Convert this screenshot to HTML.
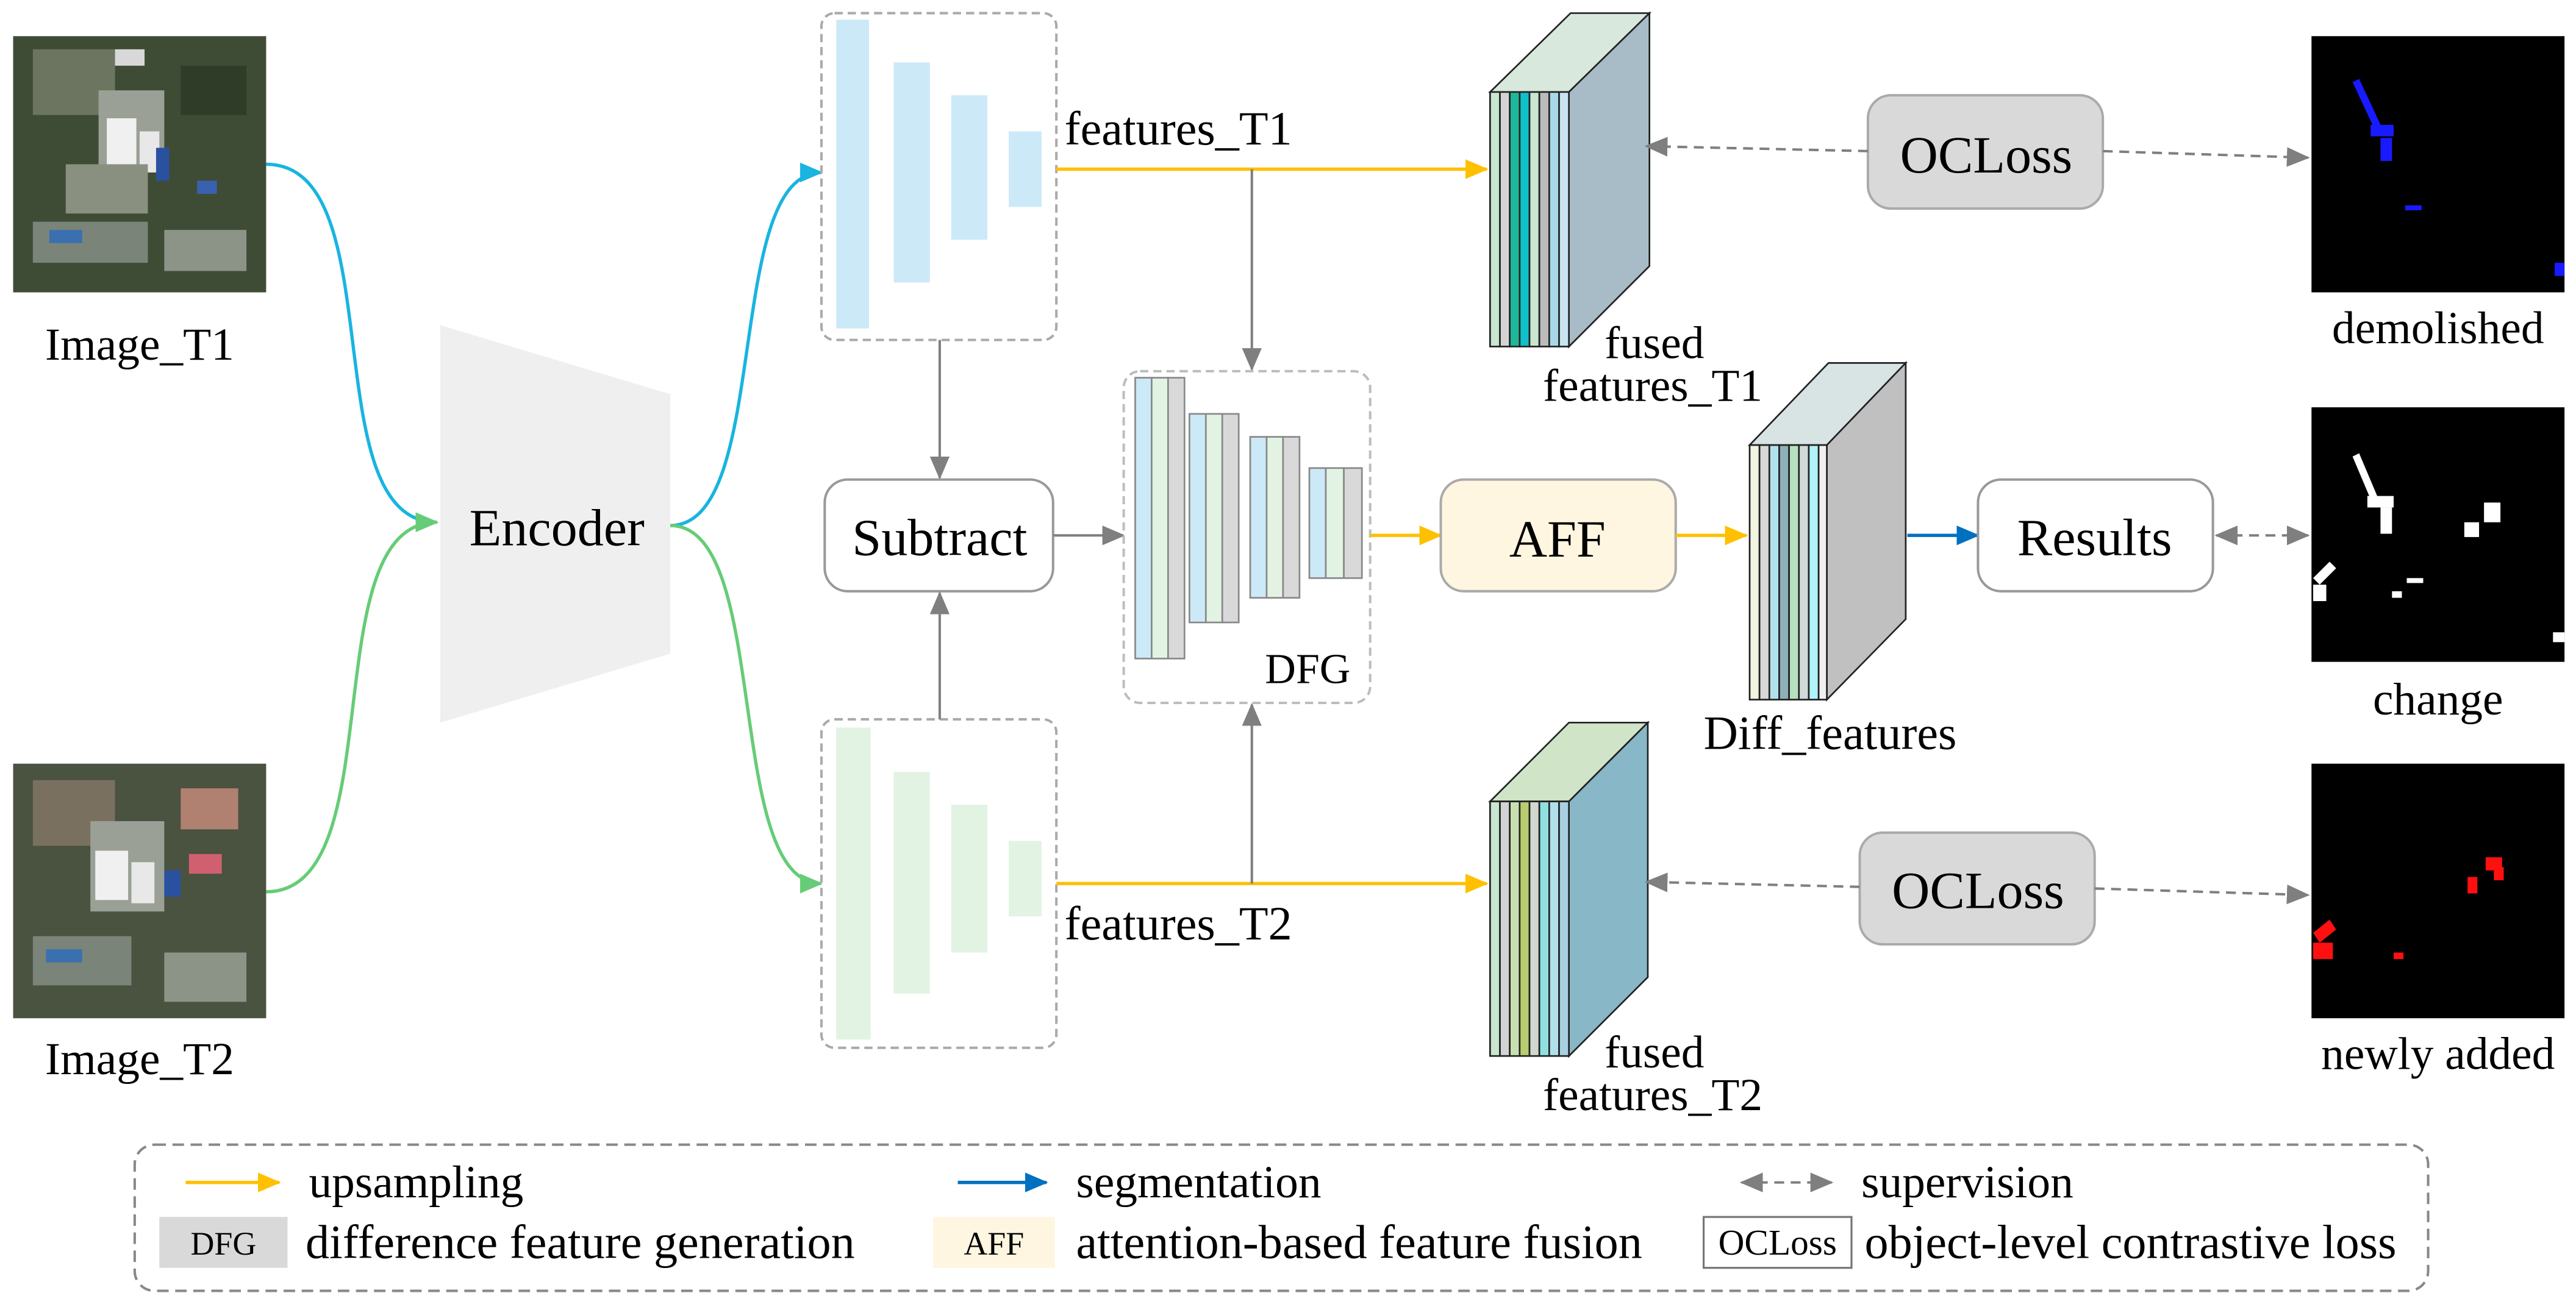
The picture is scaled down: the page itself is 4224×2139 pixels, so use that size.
<!DOCTYPE html>
<html><head><meta charset="utf-8"><style>html,body{margin:0;padding:0;background:#fff}svg{display:block}text{font-family:"Liberation Serif",serif;fill:#000}</style></head><body>
<svg width="4224" height="2139" viewBox="0 0 1568 794" xmlns="http://www.w3.org/2000/svg">
<defs>
<marker id="ay" markerWidth="14" markerHeight="12" refX="13" refY="6" orient="auto" markerUnits="userSpaceOnUse"><path d="M0,0L14,6L0,12z" fill="#ffc000"/></marker>
<marker id="ab" markerWidth="14" markerHeight="12" refX="13" refY="6" orient="auto" markerUnits="userSpaceOnUse"><path d="M0,0L14,6L0,12z" fill="#0070c0"/></marker>
<marker id="ag" markerWidth="14" markerHeight="12" refX="13" refY="6" orient="auto" markerUnits="userSpaceOnUse"><path d="M0,0L14,6L0,12z" fill="#7f7f7f"/></marker>
<marker id="ac" markerWidth="14" markerHeight="12" refX="13" refY="6" orient="auto" markerUnits="userSpaceOnUse"><path d="M0,0L14,6L0,12z" fill="#19b4e0"/></marker>
<marker id="an" markerWidth="14" markerHeight="12" refX="13" refY="6" orient="auto" markerUnits="userSpaceOnUse"><path d="M0,0L14,6L0,12z" fill="#66cc77"/></marker>
<marker id="ags" markerWidth="14" markerHeight="12" refX="1" refY="6" orient="auto" markerUnits="userSpaceOnUse"><path d="M14,0L0,6L14,12z" fill="#7f7f7f"/></marker>
</defs>

<!-- satellite images -->
<g>
<rect x="8" y="22" width="154" height="156" fill="#3f4c35"/>
<rect x="20" y="30" width="50" height="40" fill="#6b7560"/><rect x="60" y="55" width="40" height="50" fill="#9aa095"/>
<rect x="65" y="72" width="18" height="30" fill="#f0f0f0"/><rect x="85" y="80" width="12" height="25" fill="#e8e8e8"/>
<rect x="40" y="100" width="50" height="30" fill="#8a9080"/><rect x="95" y="90" width="8" height="20" fill="#2a50a0"/>
<rect x="20" y="135" width="70" height="25" fill="#7a8478"/><rect x="30" y="140" width="20" height="8" fill="#3a70b0"/>
<rect x="110" y="40" width="40" height="30" fill="#2f3d28"/><rect x="100" y="140" width="50" height="25" fill="#8c9488"/>
<rect x="70" y="30" width="18" height="10" fill="#d8d8d8"/><rect x="120" y="110" width="12" height="8" fill="#3a60b0"/>
<rect x="8" y="465" width="154" height="155" fill="#4a5240"/>
<rect x="20" y="475" width="50" height="40" fill="#7a7060"/><rect x="55" y="500" width="45" height="55" fill="#9aa095"/>
<rect x="58" y="518" width="20" height="30" fill="#f0f0f0"/><rect x="80" y="525" width="14" height="25" fill="#e8e8e8"/>
<rect x="100" y="530" width="10" height="16" fill="#2a50a0"/><rect x="115" y="520" width="20" height="12" fill="#d06070"/>
<rect x="20" y="570" width="60" height="30" fill="#7a8478"/><rect x="28" y="578" width="22" height="8" fill="#3a70b0"/>
<rect x="100" y="580" width="50" height="30" fill="#8c9488"/><rect x="110" y="480" width="35" height="25" fill="#b08070"/>
</g>
<text x="85" y="219" font-size="28" text-anchor="middle">Image_T1</text>
<text x="85" y="654" font-size="28" text-anchor="middle">Image_T2</text>

<!-- encoder -->
<polygon points="268,198 408,240 408,398 268,440" fill="#efefef"/>
<text x="339" y="332" font-size="32" text-anchor="middle">Encoder</text>
<path d="M162,100 C240,100 190,318 266,318" fill="none" stroke="#19b4e0" stroke-width="2" marker-end="url(#ac)"/>
<path d="M162,543 C240,543 190,318 266,318" fill="none" stroke="#66cc77" stroke-width="2" marker-end="url(#an)"/>
<path d="M408,320 C470,320 440,105 500,105" fill="none" stroke="#19b4e0" stroke-width="2" marker-end="url(#ac)"/>
<path d="M408,320 C470,320 440,538 500,538" fill="none" stroke="#66cc77" stroke-width="2" marker-end="url(#an)"/>

<!-- decoders -->
<rect x="500" y="8" width="143" height="199" rx="8" fill="#fff" stroke="#aaa" stroke-dasharray="5,3" stroke-width="1.5"/>
<g fill="#cce9f8"><rect x="509" y="12" width="20" height="188"/><rect x="544" y="38" width="22" height="134"/><rect x="579" y="58" width="22" height="88"/><rect x="614" y="80" width="20" height="46"/></g>
<rect x="500" y="438" width="143" height="200" rx="8" fill="#fff" stroke="#aaa" stroke-dasharray="5,3" stroke-width="1.5"/>
<g fill="#e2f3e4"><rect x="509" y="443" width="21" height="190"/><rect x="544" y="470" width="22" height="135"/><rect x="579" y="490" width="22" height="90"/><rect x="614" y="512" width="20" height="46"/></g>
<text x="648" y="88" font-size="29">features_T1</text>
<text x="648" y="572" font-size="29">features_T2</text>
<line x1="643" y1="103" x2="905" y2="103" stroke="#ffc000" stroke-width="2" marker-end="url(#ay)"/>
<line x1="643" y1="538" x2="905" y2="538" stroke="#ffc000" stroke-width="2" marker-end="url(#ay)"/>
<line x1="762" y1="103" x2="762" y2="225" stroke="#7f7f7f" stroke-width="1.5" marker-end="url(#ag)"/>
<line x1="762" y1="538" x2="762" y2="429" stroke="#7f7f7f" stroke-width="1.5" marker-end="url(#ag)"/>
<line x1="572" y1="207" x2="572" y2="291" stroke="#7f7f7f" stroke-width="1.5" marker-end="url(#ag)"/>
<line x1="572" y1="438" x2="572" y2="361" stroke="#7f7f7f" stroke-width="1.5" marker-end="url(#ag)"/>

<!-- subtract -->
<rect x="502" y="292" width="139" height="68" rx="14" fill="#fff" stroke="#999" stroke-width="1.5"/>
<text x="572" y="338" font-size="32" text-anchor="middle">Subtract</text>
<line x1="641" y1="326" x2="684" y2="326" stroke="#7f7f7f" stroke-width="1.5" marker-end="url(#ag)"/>

<!-- DFG -->
<rect x="684" y="226" width="150" height="202" rx="10" fill="#fff" stroke="#b8c0b8" stroke-dasharray="5,3" stroke-width="1.5"/>
<g stroke="#888" stroke-width="1">
<rect x="691" y="230" width="10" height="171" fill="#cce9f8"/><rect x="701" y="230" width="10" height="171" fill="#e2f3e4"/><rect x="711" y="230" width="10" height="171" fill="#d9d9d9"/>
<rect x="724" y="252" width="10" height="127" fill="#cce9f8"/><rect x="734" y="252" width="10" height="127" fill="#e2f3e4"/><rect x="744" y="252" width="10" height="127" fill="#d9d9d9"/>
<rect x="761" y="266" width="10" height="98" fill="#cce9f8"/><rect x="771" y="266" width="10" height="98" fill="#e2f3e4"/><rect x="781" y="266" width="10" height="98" fill="#d9d9d9"/>
<rect x="797" y="285" width="10" height="67" fill="#cce9f8"/><rect x="807" y="285" width="11" height="67" fill="#e2f3e4"/><rect x="818" y="285" width="11" height="67" fill="#d9d9d9"/>
</g>
<text x="796" y="416" font-size="26" text-anchor="middle">DFG</text>
<line x1="834" y1="326" x2="877" y2="326" stroke="#ffc000" stroke-width="2" marker-end="url(#ay)"/>

<!-- AFF -->
<rect x="877" y="292" width="143" height="68" rx="14" fill="#fef6e0" stroke="#aaa" stroke-width="1.5"/>
<text x="948" y="339" font-size="32" text-anchor="middle">AFF</text>
<line x1="1020" y1="326" x2="1063" y2="326" stroke="#ffc000" stroke-width="2" marker-end="url(#ay)"/>

<!-- fused T1 stack -->
<g stroke="#222" stroke-width="1">
<polygon points="907,56 955,56 1004,8 956,8" fill="#d8e8dc"/>
<polygon points="955,56 1004,8 1004,162 955,211" fill="#a8bcc8"/>
<rect x="907" y="56" width="6" height="155" fill="#c8e6d0"/><rect x="913" y="56" width="6" height="155" fill="#d3d3d3"/><rect x="919" y="56" width="6" height="155" fill="#1db89a"/><rect x="925" y="56" width="6" height="155" fill="#10c0c8"/><rect x="931" y="56" width="6" height="155" fill="#c8e6d0"/><rect x="937" y="56" width="6" height="155" fill="#bbbbbb"/><rect x="943" y="56" width="6" height="155" fill="#a8d8e8"/><rect x="949" y="56" width="6" height="155" fill="#c8e4f0"/>
</g>
<text x="1007" y="218" font-size="28" text-anchor="middle">fused</text>
<text x="1006" y="244" font-size="28" text-anchor="middle">features_T1</text>

<!-- fused T2 stack -->
<g stroke="#222" stroke-width="1">
<polygon points="907,488 955,488 1003,440 955,440" fill="#d0e4c8"/>
<polygon points="955,488 1003,440 1003,595 955,643" fill="#88b8c8"/>
<rect x="907" y="488" width="6" height="155" fill="#c8e6d0"/><rect x="913" y="488" width="6" height="155" fill="#d3d3d3"/><rect x="919" y="488" width="6" height="155" fill="#c8e0b0"/><rect x="925" y="488" width="6" height="155" fill="#b8cc70"/><rect x="931" y="488" width="6" height="155" fill="#d0d8d0"/><rect x="937" y="488" width="6" height="155" fill="#90e0e0"/><rect x="943" y="488" width="6" height="155" fill="#b0e0ec"/><rect x="949" y="488" width="6" height="155" fill="#a8d0e0"/>
</g>
<text x="1007" y="650" font-size="28" text-anchor="middle">fused</text>
<text x="1006" y="676" font-size="28" text-anchor="middle">features_T2</text>

<!-- Diff stack -->
<g stroke="#222" stroke-width="1">
<polygon points="1065,271 1112,271 1160,221 1113,221" fill="#d8e4e4"/>
<polygon points="1112,271 1160,221 1160,377 1112,426" fill="#c0c0c0"/>
<rect x="1065" y="271" width="6" height="155" fill="#f0f4e0"/><rect x="1071" y="271" width="6" height="155" fill="#d8d8d8"/><rect x="1077" y="271" width="6" height="155" fill="#b0e0ec"/><rect x="1083" y="271" width="6" height="155" fill="#90b0b8"/><rect x="1089" y="271" width="6" height="155" fill="#b8e0c0"/><rect x="1095" y="271" width="6" height="155" fill="#d0d8d8"/><rect x="1101" y="271" width="6" height="155" fill="#b0f4f8"/><rect x="1107" y="271" width="5" height="155" fill="#f0f0f0"/>
</g>
<text x="1114" y="456" font-size="29" text-anchor="middle">Diff_features</text>
<line x1="1161" y1="326" x2="1204" y2="326" stroke="#0070c0" stroke-width="2" marker-end="url(#ab)"/>

<!-- Results -->
<rect x="1204" y="292" width="143" height="68" rx="14" fill="#fff" stroke="#999" stroke-width="1.5"/>
<text x="1275" y="338" font-size="32" text-anchor="middle">Results</text>
<line x1="1349" y1="326" x2="1405" y2="326" stroke="#7f7f7f" stroke-width="1.5" stroke-dasharray="6,4" marker-start="url(#ags)" marker-end="url(#ag)"/>

<!-- OCLoss -->
<rect x="1137" y="58" width="143" height="69" rx="14" fill="#d9d9d9" stroke="#aaa" stroke-width="1.5"/>
<text x="1209" y="105" font-size="32" text-anchor="middle">OCLoss</text>
<line x1="1137" y1="92" x2="1002" y2="89" stroke="#7f7f7f" stroke-width="1.5" stroke-dasharray="6,4" marker-end="url(#ag)"/>
<line x1="1280" y1="92" x2="1405" y2="96" stroke="#7f7f7f" stroke-width="1.5" stroke-dasharray="6,4" marker-end="url(#ag)"/>
<rect x="1132" y="507" width="143" height="68" rx="14" fill="#d9d9d9" stroke="#aaa" stroke-width="1.5"/>
<text x="1204" y="553" font-size="32" text-anchor="middle">OCLoss</text>
<line x1="1132" y1="540" x2="1002" y2="537" stroke="#7f7f7f" stroke-width="1.5" stroke-dasharray="6,4" marker-end="url(#ag)"/>
<line x1="1275" y1="541" x2="1405" y2="545" stroke="#7f7f7f" stroke-width="1.5" stroke-dasharray="6,4" marker-end="url(#ag)"/>

<!-- result masks -->
<rect x="1407" y="22" width="154" height="156" fill="#000"/>
<g fill="#1a1aff"><polygon points="1432,50 1436,48 1450,78 1446,80"/><rect x="1443" y="76" width="14" height="7"/><rect x="1449" y="84" width="7" height="14"/><rect x="1464" y="125" width="10" height="3"/><rect x="1555" y="160" width="6" height="8"/></g>
<text x="1484" y="209" font-size="28" text-anchor="middle">demolished</text>
<rect x="1407" y="248" width="154" height="155" fill="#000"/>
<g fill="#fff"><polygon points="1432,278 1436,276 1447,302 1443,304"/><rect x="1441" y="302" width="16" height="7"/><rect x="1449" y="309" width="7" height="16"/><rect x="1500" y="318" width="9" height="9"/><rect x="1512" y="306" width="10" height="12"/><polygon points="1408,352 1418,342 1422,346 1412,356"/><rect x="1408" y="356" width="8" height="10"/><rect x="1465" y="352" width="10" height="3"/><rect x="1456" y="360" width="6" height="4"/><rect x="1554" y="385" width="7" height="6"/></g>
<text x="1484" y="435" font-size="28" text-anchor="middle">change</text>
<rect x="1407" y="465" width="154" height="155" fill="#000"/>
<g fill="#ff1010"><polygon points="1408,568 1418,560 1422,566 1412,574"/><rect x="1408" y="574" width="12" height="10"/><rect x="1457" y="580" width="6" height="4"/><rect x="1502" y="534" width="6" height="10"/><rect x="1513" y="522" width="10" height="8"/><rect x="1518" y="528" width="6" height="8"/></g>
<text x="1484" y="651" font-size="28" text-anchor="middle">newly added</text>

<!-- legend -->
<rect x="82" y="697" width="1396" height="89" rx="12" fill="#fff" stroke="#888" stroke-width="1.5" stroke-dasharray="7,4"/>
<line x1="113" y1="720" x2="170" y2="720" stroke="#ffc000" stroke-width="2" marker-end="url(#ay)"/>
<text x="188" y="729" font-size="28">upsampling</text>
<line x1="583" y1="720" x2="637" y2="720" stroke="#0070c0" stroke-width="2" marker-end="url(#ab)"/>
<text x="655" y="729" font-size="28">segmentation</text>
<line x1="1060" y1="720" x2="1115" y2="720" stroke="#7f7f7f" stroke-width="1.5" stroke-dasharray="6,4" marker-start="url(#ags)" marker-end="url(#ag)"/>
<text x="1133" y="729" font-size="28">supervision</text>
<rect x="97" y="741" width="78" height="31" fill="#d9d9d9"/>
<text x="136" y="764" font-size="20" text-anchor="middle">DFG</text>
<text x="186" y="766" font-size="29">difference feature generation</text>
<rect x="568" y="741" width="74" height="31" fill="#fef6e0"/>
<text x="605" y="764" font-size="20" text-anchor="middle">AFF</text>
<text x="655" y="766" font-size="29">attention-based feature fusion</text>
<rect x="1037" y="741" width="90" height="31" fill="#fff" stroke="#777" stroke-width="1.2"/>
<text x="1082" y="764" font-size="22" text-anchor="middle">OCLoss</text>
<text x="1135" y="766" font-size="29">object-level contrastive loss</text>
</svg>
</body></html>
